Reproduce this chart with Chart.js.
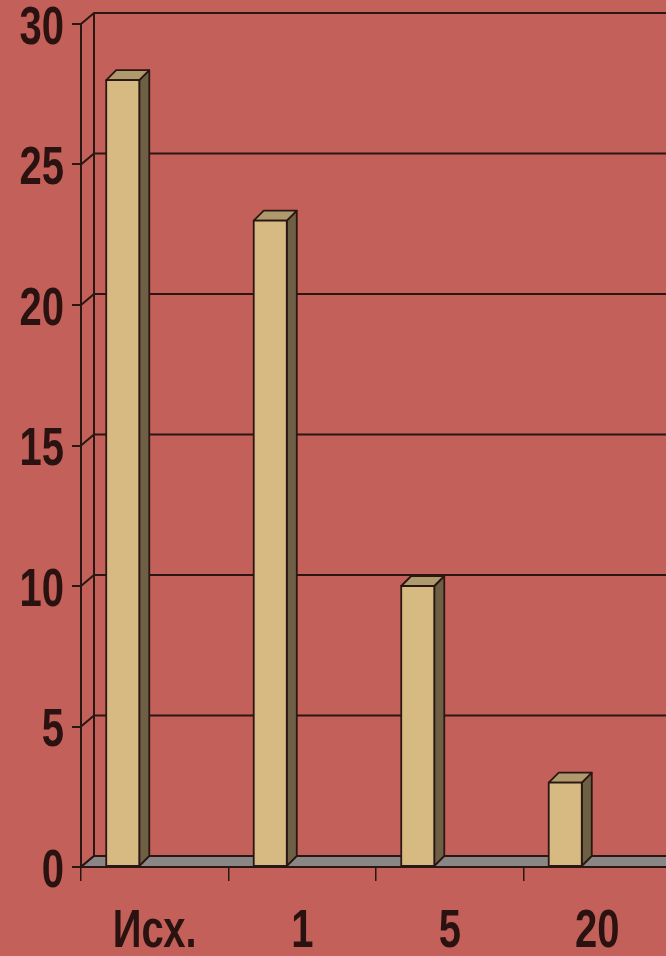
<!DOCTYPE html>
<html>
<head>
<meta charset="utf-8">
<script src="https://cdn.jsdelivr.net/npm/chart.js@4/dist/chart.umd.min.js"></script>
<style>
  html, body { margin: 0; padding: 0; overflow: hidden; background: #c4605a; }
  #wrap { width: 671px; height: 956px; }
</style>
</head>
<body>
<div id="wrap"><canvas id="chart01"></canvas></div>
<script>
const categories = ['Исх.', '1', '5', '20'];
const values = [28, 23, 10, 3];
const yTicks = [0, 5, 10, 15, 20, 25, 30];

const LINE = '#2a1612';
const TEXT = '#2a1210';
const FONT = '"Liberation Sans", Arial, sans-serif';

// 3D look: back wall offset and bar depth
const wall = { dx: 13, dy: -11 };
const depth = { dx: 10, dy: -10 };
const barShift = -32;

// tall narrow bold labels, drawn from the scale ticks
function tallText(ctx, text, x, y, align) {
  ctx.save();
  ctx.translate(x, y);
  ctx.scale(1, 1.35);
  ctx.font = 'bold 40px ' + FONT;
  ctx.fillStyle = TEXT;
  ctx.textAlign = align;
  ctx.textBaseline = 'middle';
  ctx.fillText(text, 0, 0);
  ctx.restore();
}

const bars3d = {
  id: 'bars3d',
  beforeDatasetsDraw(chart) {
    const { ctx, chartArea, scales } = chart;
    const y = scales.y;
    ctx.save();
    ctx.strokeStyle = LINE;
    ctx.lineWidth = 2;
    yTicks.forEach(v => {
      const py = y.getPixelForValue(v);
      ctx.beginPath();
      ctx.moveTo(chartArea.left, py);
      ctx.lineTo(chartArea.left + wall.dx, py + wall.dy);
      ctx.lineTo(chartArea.right + 40, py + wall.dy);
      ctx.stroke();
    });
    ctx.beginPath();
    ctx.moveTo(chartArea.left + wall.dx, y.getPixelForValue(30) + wall.dy);
    ctx.lineTo(chartArea.left + wall.dx, y.getPixelForValue(0) + wall.dy);
    ctx.stroke();
    // floor
    const p0 = y.getPixelForValue(0);
    ctx.beginPath();
    ctx.moveTo(chartArea.left, p0);
    ctx.lineTo(chartArea.left + wall.dx, p0 + wall.dy);
    ctx.lineTo(chartArea.right + 40, p0 + wall.dy);
    ctx.lineTo(chartArea.right + 40, p0);
    ctx.closePath();
    ctx.fillStyle = '#8a8686';
    ctx.fill();
    ctx.stroke();
    ctx.restore();
  },
  afterDatasetsDraw(chart) {
    const { ctx } = chart;
    const meta = chart.getDatasetMeta(0);
    ctx.save();
    ctx.strokeStyle = LINE;
    ctx.lineWidth = 1.8;
    ctx.lineJoin = 'round';
    meta.data.forEach(el => {
      const x0 = el.x + barShift - el.width / 2;
      const x1 = x0 + el.width;
      const top = el.y, base = el.base;
      ctx.beginPath();
      ctx.moveTo(x1, base);
      ctx.lineTo(x1 + depth.dx, base + depth.dy);
      ctx.lineTo(x1 + depth.dx, top + depth.dy);
      ctx.lineTo(x1, top);
      ctx.closePath();
      ctx.fillStyle = '#6e6045';
      ctx.fill(); ctx.stroke();
      ctx.beginPath();
      ctx.moveTo(x0, top);
      ctx.lineTo(x0 + depth.dx, top + depth.dy);
      ctx.lineTo(x1 + depth.dx, top + depth.dy);
      ctx.lineTo(x1, top);
      ctx.closePath();
      ctx.fillStyle = '#ae9a6c';
      ctx.fill(); ctx.stroke();
      ctx.beginPath();
      ctx.rect(x0, top, el.width, base - top);
      ctx.fillStyle = '#d7b982';
      ctx.fill(); ctx.stroke();
    });
    ctx.restore();
  },
  afterDraw(chart) {
    const { ctx, scales } = chart;
    scales.y.ticks.forEach((t, i) => {
      tallText(ctx, String(t.value), 64, scales.y.getPixelForTick(i) + 5, 'right');
    });
    scales.x.ticks.forEach((t, i) => {
      tallText(ctx, categories[t.value], scales.x.getPixelForTick(i), 932, 'center');
    });
  }
};

new Chart(document.getElementById('chart01'), {
  type: 'bar',
  data: {
    labels: categories,
    datasets: [{
      data: values,
      backgroundColor: 'rgba(0,0,0,0)',
      borderWidth: 0,
      barPercentage: 1,
      categoryPercentage: 0.224
    }]
  },
  options: {
    responsive: true,
    maintainAspectRatio: false,
    animation: false,
    layout: { padding: { top: 24, right: 0, left: 0, bottom: 0 } },
    plugins: { legend: { display: false }, tooltip: { enabled: false } },
    scales: {
      x: {
        offset: true,
        grid: { offset: true, drawOnChartArea: false, color: LINE, tickLength: 14, lineWidth: 1.5 },
        border: { color: LINE, width: 2 },
        ticks: { display: false },
        afterFit: s => { s.height = 89; }
      },
      y: {
        min: 0, max: 30,
        ticks: { stepSize: 5, display: false },
        grid: { drawOnChartArea: false, color: LINE, tickLength: 9, lineWidth: 2 },
        border: { color: LINE, width: 2 },
        afterFit: s => { s.width = 81; }
      }
    }
  },
  plugins: [bars3d]
});
</script>
</body>
</html>
